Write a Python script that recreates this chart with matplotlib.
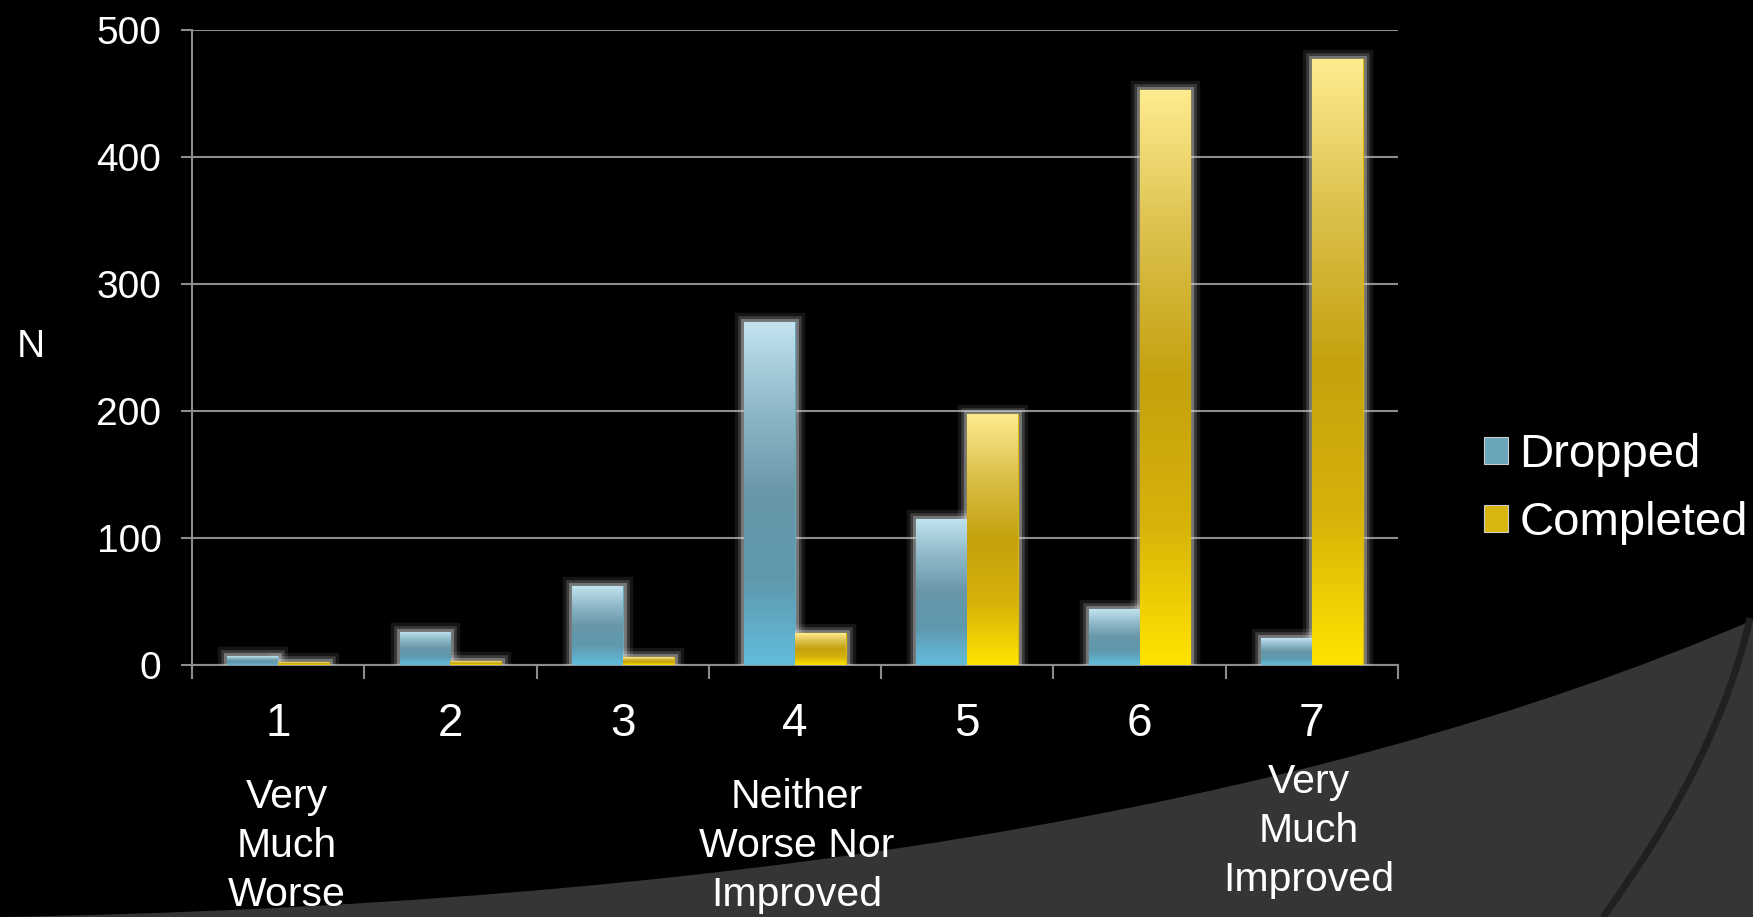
import numpy as np
import matplotlib
matplotlib.use("Agg")
import matplotlib.pyplot as plt
import matplotlib.patheffects as pe
from matplotlib.colors import LinearSegmentedColormap
from matplotlib.patches import Patch, PathPatch
from matplotlib.path import Path

# Data
categories = [1, 2, 3, 4, 5, 6, 7]
dropped = [7, 26, 62, 270, 115, 44, 21]
completed = [2, 3, 6, 25, 198, 453, 477]
scale_notes = {1: "Very\nMuch\nWorse", 4: "Neither\nWorse Nor\nImproved", 7: "Very\nMuch\nImproved"}
series_names = ["Dropped", "Completed"]

plt.rcParams['font.family'] = ['Liberation Sans', 'DejaVu Sans']

W, H = 1753, 917
fig = plt.figure(figsize=(W / 100, H / 100), dpi=100, facecolor='black')

# theme decoration: grey swoosh in the lower right corner
def fig_xy(x, y):
    return (x / W, 1 - y / H)

swoosh = Path([fig_xy(0, 917), fig_xy(700, 905), fig_xy(1300, 815), fig_xy(1753, 620),
               fig_xy(1753, 917), fig_xy(0, 917)],
              [Path.MOVETO, Path.CURVE4, Path.CURVE4, Path.CURVE4, Path.LINETO, Path.CLOSEPOLY])
fig.patches.append(PathPatch(swoosh, transform=fig.transFigure, facecolor='#353535',
                             edgecolor='none', zorder=0))
arc = Path([fig_xy(1750, 618), fig_xy(1718, 760), fig_xy(1603, 917)],
           [Path.MOVETO, Path.CURVE3, Path.CURVE3])
fig.patches.append(PathPatch(arc, transform=fig.transFigure, facecolor='none',
                             edgecolor='#202020', lw=5, zorder=0))

ax = fig.add_axes([192 / W, 1 - 665 / H, (1398 - 192) / W, (665 - 30) / H])
ax.set_facecolor('none')
ax.set_zorder(2)

x = np.arange(len(categories)) + 1
bw = 0.295
grey = '#8c8c8c'

# top -> bottom colour ramps for each series
cmaps = [
    LinearSegmentedColormap.from_list('drop', ['#c2e3ef', '#8fb9c9', '#6897a9', '#5f99ae', '#62bddc']),
    LinearSegmentedColormap.from_list('comp', ['#ffec90', '#dcc04c', '#c4a20e', '#d6b20a', '#ffe400']),
]
solid = ['#6aa6ba', '#d8b610']
glow = [pe.Stroke(linewidth=14, foreground='#d0d0d0', alpha=0.10),
        pe.Stroke(linewidth=9, foreground='#d8d8d8', alpha=0.20),
        pe.Stroke(linewidth=5, foreground='#e0e0e0', alpha=0.35),
        pe.Normal()]

grad = np.linspace(0, 1, 256).reshape(-1, 1)
for i, vals in enumerate([dropped, completed]):
    bars = ax.bar(x + (i - 0.5) * bw, vals, width=bw, facecolor='none',
                  edgecolor=solid[i], lw=1.0, zorder=3)
    for b in bars:
        b.set_path_effects(glow)
        bx, by, bwid, bh = b.get_x(), b.get_y(), b.get_width(), b.get_height()
        im = ax.imshow(grad, cmap=cmaps[i], extent=[bx, bx + bwid, by, by + bh],
                       aspect='auto', origin='upper', zorder=4, interpolation='bilinear')
        im.set_clip_path(b)

ax.set_xlim(0.5, 7.5)
ax.set_ylim(0, 500)
ax.set_yticks([0, 100, 200, 300, 400, 500])
ax.grid(axis='y', color=grey, lw=1.5, zorder=1)
ax.set_axisbelow(True)

for s in ['top', 'right']:
    ax.spines[s].set_visible(False)
for s in ['left', 'bottom']:
    ax.spines[s].set_color(grey)
    ax.spines[s].set_linewidth(1.5)

ax.tick_params(axis='y', colors=grey, length=8, width=1.5, pad=14, labelcolor='white', labelsize=28)
ax.set_xticks(np.arange(0.5, 8, 1))
ax.set_xticklabels([])
ax.tick_params(axis='x', which='major', colors=grey, length=10, width=1.5, direction='out')
ax.set_xticks(x, minor=True)
ax.set_xticklabels([str(c) for c in categories], minor=True)
ax.tick_params(axis='x', which='minor', length=0, pad=27, labelcolor='white', labelsize=33)

fig.text(31 / W, 1 - 347 / H, "N", color='white', fontsize=28, ha='center', va='center')

# verbal anchors of the rating scale (centre of middle line, in pixels from top)
note_y = {1: 846, 4: 846, 7: 831}
note_dx = {1: 0.05, 4: 0.01, 7: -0.02}
for c, note in scale_notes.items():
    ax.text(c + note_dx[c], 1 - (note_y[c] - 30) / (665 - 30), note, transform=ax.get_xaxis_transform(),
            ha='center', va='center', color='white', fontsize=29.5, linespacing=1.38)

handles = [Patch(facecolor=solid[i], edgecolor='#cccccc', lw=0.8) for i in range(2)]
fig.legend(handles, series_names, loc='center left', bbox_to_anchor=(1484 / W, 1 - 489 / H),
           frameon=False, fontsize=34, labelcolor='white', handlelength=0.5, handleheight=0.5,
           handletextpad=0.25, labelspacing=0.5, borderaxespad=0, borderpad=0)

fig.savefig('out.png', dpi=100, facecolor='black')
